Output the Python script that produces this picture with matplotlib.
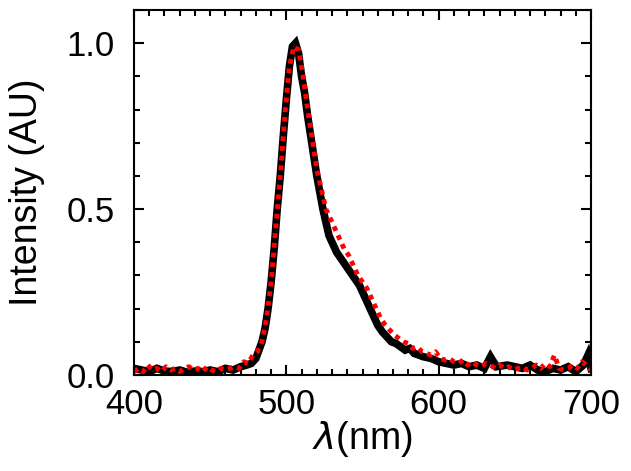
import numpy as np
import matplotlib
matplotlib.use('Agg')
from matplotlib import pyplot as plt
from matplotlib.ticker import MultipleLocator, FormatStrFormatter

# black spectrum (solid)
wl_black = [400, 405, 410, 415, 420, 425, 430, 435, 440, 445, 450, 455, 460, 465, 470,
            474, 477, 480, 482, 484, 486, 488, 490, 492, 494, 496, 498, 500, 502, 504,
            506, 508, 510, 512, 514, 516, 518, 520, 522, 524, 526, 528, 530, 533, 536,
            539, 542, 545, 548, 551, 554, 557, 560, 563, 566, 569, 572, 575, 578, 581,
            584, 587, 590, 595, 600, 605, 610, 615, 620, 625, 630, 634, 638, 645, 650,
            655, 660, 665, 670, 675, 680, 685, 690, 695, 698, 700]
int_black = [0.02, 0.015, 0.01, 0.02, 0.012, 0.01, 0.015, 0.008, 0.012, 0.01, 0.015, 0.01, 0.02, 0.015, 0.025,
             0.03, 0.035, 0.05, 0.075, 0.1, 0.14, 0.2, 0.28, 0.38, 0.5, 0.6, 0.72, 0.83, 0.93, 0.99,
             1.0, 0.97, 0.9, 0.85, 0.78, 0.72, 0.66, 0.6, 0.55, 0.5, 0.46, 0.42, 0.4, 0.37, 0.35,
             0.33, 0.31, 0.29, 0.27, 0.24, 0.21, 0.18, 0.15, 0.13, 0.115, 0.1, 0.095, 0.085, 0.075, 0.08,
             0.065, 0.06, 0.055, 0.05, 0.04, 0.035, 0.03, 0.035, 0.025, 0.03, 0.02, 0.055, 0.025, 0.03, 0.025,
             0.02, 0.03, 0.015, 0.01, 0.02, 0.015, 0.025, 0.01, 0.03, 0.06, 0.02]

# red spectrum (dotted)
wl_red = list(range(400, 701, 3))
int_red = [0.01, 0.02, 0.01, 0.03, 0.015, 0.02, 0.01, 0.025, 0.015, 0.02,
           0.01, 0.02, 0.025, 0.015, 0.02, 0.01, 0.025, 0.015, 0.01, 0.02,
           0.015, 0.02, 0.025, 0.02, 0.04, 0.035, 0.06, 0.07, 0.1, 0.17,
           0.28, 0.44, 0.6, 0.78, 0.93, 0.99, 0.98, 0.9, 0.8, 0.71,
           0.62, 0.56, 0.5, 0.47, 0.44, 0.41, 0.38, 0.36, 0.33, 0.3,
           0.28, 0.26, 0.23, 0.2, 0.17, 0.15, 0.135, 0.12, 0.11, 0.1,
           0.095, 0.08, 0.085, 0.07, 0.065, 0.06, 0.07, 0.05, 0.045, 0.05,
           0.04, 0.035, 0.045, 0.03, 0.04, 0.03, 0.025, 0.035, 0.03, 0.02,
           0.03, 0.02, 0.025, 0.015, 0.02, 0.025, 0.015, 0.02, 0.03, 0.02,
           0.035, 0.025, 0.06, 0.02, 0.015, 0.02, 0.03, 0.02, 0.04, 0.03,
           0.015]

plt.rcParams['font.family'] = ['Liberation Sans', 'DejaVu Sans']
plt.rcParams['mathtext.fontset'] = 'dejavusans'

fig = plt.figure(figsize=(6.31, 4.71), dpi=100)
ax = fig.add_axes([0.2124, 0.2038, 0.7242, 0.7750])

ax.plot(wl_black, int_black, color='black', lw=5.5, solid_joinstyle='miter')
ax.plot(wl_red, int_red, color='red', lw=3.5, dashes=(1, 1))

ax.set_xlim(400, 700)
ax.set_ylim(0, 1.1)
ax.xaxis.set_major_locator(MultipleLocator(100))
ax.xaxis.set_minor_locator(MultipleLocator(10))
ax.yaxis.set_major_locator(MultipleLocator(0.5))
ax.yaxis.set_minor_locator(MultipleLocator(0.1))
ax.yaxis.set_major_formatter(FormatStrFormatter('%.1f'))

ax.tick_params(which='both', direction='in', top=True, right=True, width=1.5, labelsize=25)
ax.tick_params(which='major', length=7)
ax.tick_params(which='minor', length=4)
ax.tick_params(axis='x', pad=9)
ax.tick_params(axis='y', pad=14)
for s in ax.spines.values():
    s.set_linewidth(1.5)

ax.set_xlabel(r'$\lambda$(nm)', fontsize=27, labelpad=-1)
ax.set_ylabel('Intensity (AU)', fontsize=27)
ax.yaxis.set_label_coords(-0.195, 0.5)

fig.savefig('out.png', dpi=100)
